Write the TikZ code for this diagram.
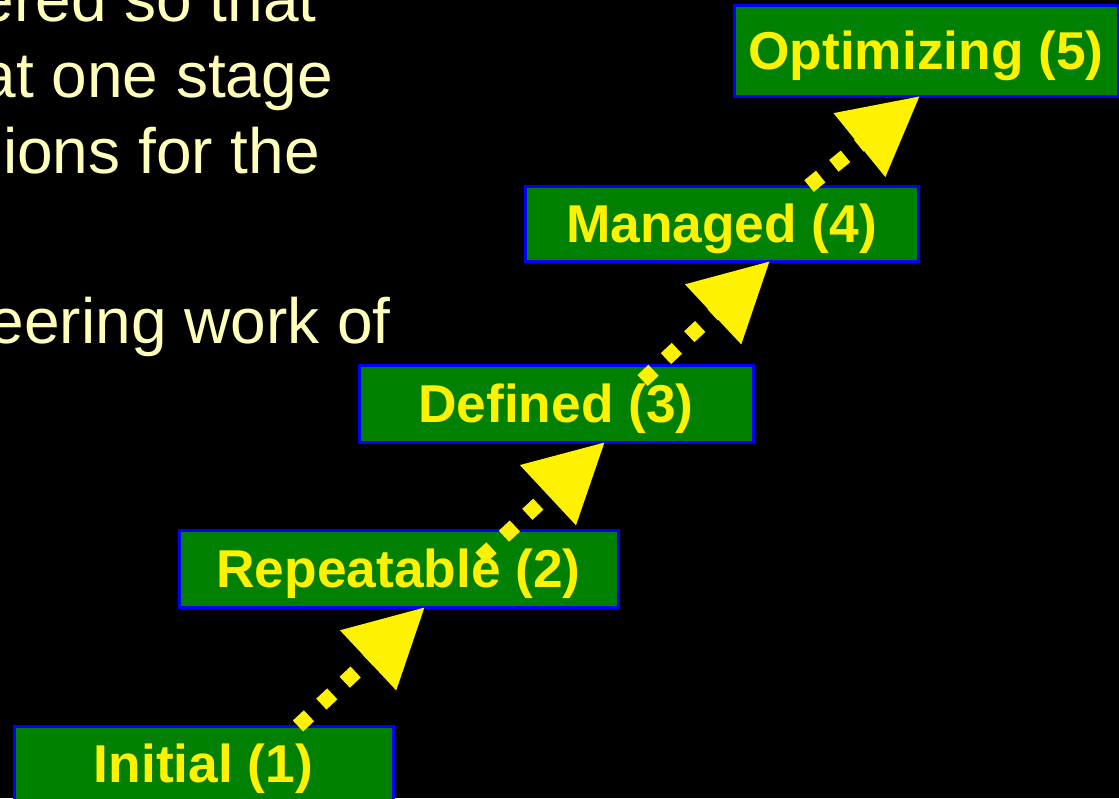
\documentclass[tikz,border=0pt]{standalone}
\usepackage{fontspec}
\setmainfont{Liberation Sans}
\usepackage{tikz}
\usetikzlibrary{positioning,arrows.meta}
\definecolor{boxgreen}{RGB}{0,128,0}
\definecolor{boxblue}{RGB}{0,0,255}
\definecolor{paleyellow}{RGB}{255,255,185}

\begin{document}
\begin{tikzpicture}[x=1pt, y=-1pt,
    level block/.style={draw=boxblue, fill=boxgreen, line width=3pt, rectangle, inner sep=0pt, outer sep=0pt, minimum height=75pt, text height=38.5pt, text depth=0pt, text=yellow, font=\fontsize{53.3}{60}\selectfont\bfseries},
    level arrow/.style={draw=yellow, line width=15pt, dash pattern=on 15pt off 17pt, -{Triangle[length=78pt, width=78pt]}},
    body text/.style={text=paleyellow, inner sep=0pt, anchor=base east, font=\fontsize{64}{76}\selectfont}]
    \fill[black] (0,0) rectangle (1119,798);
    \useasboundingbox (0,0) rectangle (1119,798);

    % slide text, cut at the left
    \node[body text] (line1) at (317,21) {ered so that};
    \node[body text] (line2) at (333,97) {at one stage};
    \node[body text] (line3) at (320,173) {ions for the};
    \node[body text] (line4) at (391,343) {eering work of};

    \node[level block, minimum width=379pt] (init) at (203.5,763.5) {Initial (1)};
    \node[level block, minimum width=439pt, minimum height=77pt] (rep) at (398.5,568.5) {Repeatable (2)};
    \node[level block, minimum width=394pt, minimum height=77pt] (def) at (556,403.5) {Defined (3)};
    \node[level block, minimum width=393pt] (man) at (721.5,223.5) {Managed (4)};
    \node[level block, minimum width=384pt, minimum height=91pt] (opt) at (926,50.5) {Optimizing (5)};

    \draw[level arrow] ([xshift=94.5pt]init.north) -- ([xshift=26.5pt]rep.south);
    \draw[level arrow] ([xshift=82pt, yshift=10.5pt]rep.center) -- ([xshift=49pt]def.south);
    \draw[level arrow] ([xshift=86.6pt, yshift=23pt]def.center) -- ([xshift=48.5pt]man.south);
    \draw[level arrow] ([xshift=87.5pt]man.north) -- ([xshift=-6pt]opt.south);
\end{tikzpicture}
\end{document}
